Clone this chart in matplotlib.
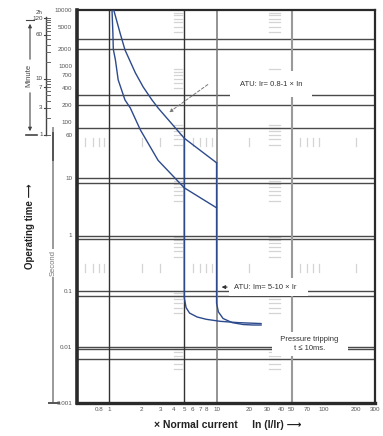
import matplotlib
matplotlib.use('Agg')
import matplotlib.pyplot as plt
from matplotlib.transforms import blended_transform_factory

plt.rcParams['font.family'] = ['Liberation Sans', 'DejaVu Sans']

# ---------------- data ----------------
lower_x = [1.06, 1.08, 1.09, 1.14, 1.21, 1.40, 1.57, 1.95, 2.85, 5.0, 10.0]
lower_t = [10000, 3900, 2000, 1300, 570, 250, 180, 73, 21, 6.8, 3.0]
upper_x = [1.10, 1.26, 1.40, 1.75, 2.07, 2.50, 2.85, 5.0, 10.0]
upper_t = [10000, 3900, 1950, 760, 425, 250, 180, 52, 19]
inst5_x = [5.0, 5.0, 5.2, 5.6, 6.6, 8.0, 10.8, 16.0, 26.0]
inst5_t = [52, 0.075, 0.05, 0.04, 0.034, 0.031, 0.0285, 0.027, 0.026]
inst10_x = [10.0, 10.0, 10.4, 11.5, 14.0, 17.7, 22.0, 26.0]
inst10_t = [19, 0.06, 0.042, 0.032, 0.027, 0.025, 0.0245, 0.0245]

xtick_vals = [0.8, 1, 2, 3, 4, 5, 6, 7, 8, 10, 20, 30, 40, 50, 70, 100, 200, 300]
xtick_labels = ['0.8', '1', '2', '3', '4', '5', '6', '7', '8', '10', '20', '30',
                '40', '50', '70', '100', '200', '300']
ytick_vals = [10000, 5000, 2000, 1000, 700, 400, 200, 100, 60, 10, 1, 0.1, 0.01, 0.001]
ytick_labels = ['10000', '5000', '2000', '1000', '700', '400', '200', '100', '60',
                '10', '1', '0.1', '0.01', '0.001']
minute_labels_v = [120, 60, 10, 7, 3, 1]
minute_minor_v = [1, 2, 3, 4, 5, 6, 7, 8, 9, 10, 20, 30, 40, 50, 60, 70, 80, 90, 100, 110, 120]

hgrid_dark = [3000, 2000, 300, 200, 80, 10, 8.2, 0.95, 0.84, 0.1, 0.08, 0.01, 0.0092, 0.006]
vgrid = [(1, '#333333', 1.0), (5, '#333333', 1.0), (10, '#777777', 1.1), (50, '#9a9a9a', 1.5)]
minor_k = [4, 5, 6, 7, 8, 9]
minor_decades = [0.001, 0.01, 0.1, 1, 10, 100, 1000]
vtick_x = [0.6, 0.7, 0.8, 0.9, 2, 3, 6, 7, 8, 9, 20, 60, 70, 80, 90, 200]

W, H = 383, 436
fig = plt.figure(figsize=(W / 100, H / 100), dpi=100)
ax = fig.add_axes([77 / W, 33 / H, 298 / W, 393 / H])
ax.set_xscale('log')
ax.set_yscale('log')
ax.set_xlim(0.5, 300)
ax.set_ylim(0.001, 10000)

ax.minorticks_off()
ax.set_xticks(xtick_vals)
ax.set_xticklabels(xtick_labels)
ax.set_yticks(ytick_vals)
ax.set_yticklabels(ytick_labels)
ax.tick_params(axis='both', length=0, labelsize=4.5, labelcolor='#555555')
ax.tick_params(axis='x', pad=3)
ax.tick_params(axis='y', pad=3.5)

for s, lw in [('left', 2.6), ('bottom', 2.4), ('top', 1.6), ('right', 1.6)]:
    ax.spines[s].set_linewidth(lw)
    ax.spines[s].set_color('#2a2a2a')

# grid lines
for v in hgrid_dark:
    ax.axhline(v, color='#4a4a4a', lw=1.0, zorder=1)
for v, c, lw in vgrid:
    ax.axvline(v, color=c, lw=lw, zorder=1)

# light minor marks
for d in minor_decades:
    for k in minor_k:
        v = k * d
        if v < 10000:
            ax.plot([4.0, 4.8], [v, v], color='#d4d4d4', lw=0.9, zorder=0.5)
            ax.plot([31, 39], [v, v], color='#d4d4d4', lw=0.9, zorder=0.5)
for x in vtick_x:
    ax.plot([x, x], [38, 52], color='#d4d4d4', lw=0.9, zorder=0.5)
    ax.plot([x, x], [0.215, 0.3], color='#d4d4d4', lw=0.9, zorder=0.5)

# curves
blue = '#2d4a8c'
ax.plot(lower_x, lower_t, color=blue, lw=1.0, zorder=3)
ax.plot(upper_x, upper_t, color=blue, lw=1.0, zorder=3)
ax.plot(inst5_x, inst5_t, color=blue, lw=1.0, zorder=3)
ax.plot(inst10_x, inst10_t, color=blue, lw=1.0, zorder=3)

# annotations
ax.annotate('', xy=(3.45, 141), xytext=(8.7, 503),
            arrowprops=dict(arrowstyle='-|>', color='#777777', lw=0.7,
                            linestyle=(0, (3, 2)), mutation_scale=5), zorder=4)
ax.text(16.5, 480, 'ATU: Ir= 0.8-1 × In', fontsize=5.5, color='#333333',
        ha='left', va='center', zorder=5,
        bbox=dict(boxstyle='square,pad=1.3', fc='white', ec='none'))

ax.annotate('', xy=(10.5, 0.116), xytext=(13.3, 0.116),
            arrowprops=dict(arrowstyle='-|>', color='#333333', lw=0.8,
                            mutation_scale=5), zorder=6)
ax.text(14.5, 0.116, 'ATU: Im= 5-10 × Ir   ', fontsize=5.5, color='#333333',
        ha='left', va='center', zorder=5,
        bbox=dict(boxstyle='square,pad=0.7', fc='white', ec='none'))

ax.text(74, 0.0112, '  Pressure tripping  \nt ≤ 10ms.', fontsize=5.5, color='#333333',
        ha='center', va='center', zorder=5, linespacing=1.3,
        bbox=dict(boxstyle='square,pad=0.6', fc='white', ec='none'))

# ---------- left side decorations ----------
tr = blended_transform_factory(fig.transFigure, ax.transData)

def fx(px):
    return px / W

def fy(py):
    return 1 - py / H

# Minute axis
ax.plot([fx(46), fx(46)], [60 * 1, 60 * 125], transform=tr, color='#444444', lw=1.0, clip_on=False)
for m in minute_minor_v:
    ax.plot([fx(46), fx(49.5)], [60 * m, 60 * m], transform=tr, color='#666666', lw=0.7, clip_on=False)
for m in minute_labels_v:
    ax.plot([fx(43.5), fx(46)], [60 * m, 60 * m], transform=tr, color='#444444', lw=0.8, clip_on=False)
    ax.text(fx(42.5), 60 * m, str(m), transform=tr, fontsize=4.5, color='#444444',
            ha='right', va='center', clip_on=False)
ax.text(fx(42.5), 60 * 120 * 1.25, '2h', transform=tr, fontsize=4.5, color='#444444',
        ha='right', va='center', clip_on=False)

fig.text(fx(29), fy(75), 'Minute', rotation=90, fontsize=5.5, color='#444444',
         ha='center', va='center')
fig.add_artist(matplotlib.patches.FancyArrowPatch((fx(30), fy(62)), (fx(30), fy(21)),
               transform=fig.transFigure, arrowstyle='-|>', mutation_scale=5,
               color='#444444', lw=0.8))
fig.add_artist(matplotlib.patches.FancyArrowPatch((fx(30), fy(90)), (fx(30), fy(134)),
               transform=fig.transFigure, arrowstyle='-|>', mutation_scale=5,
               color='#444444', lw=0.8))
fig.add_artist(matplotlib.lines.Line2D([fx(26), fx(37)], [fy(135), fy(135)],
               transform=fig.transFigure, color='#444444', lw=1.2))
fig.add_artist(matplotlib.lines.Line2D([fx(26), fx(34)], [fy(20), fy(20)],
               transform=fig.transFigure, color='#444444', lw=0.8))

# Second axis
fig.add_artist(matplotlib.lines.Line2D([fx(53), fx(53)], [fy(128), fy(403)],
               transform=fig.transFigure, color='#9a9a9a', lw=1.4))
fig.add_artist(matplotlib.lines.Line2D([fx(53), fx(53)], [fy(133), fy(160)],
               transform=fig.transFigure, color='#555555', lw=1.4))
fig.add_artist(matplotlib.lines.Line2D([fx(49), fx(59)], [fy(403), fy(403)],
               transform=fig.transFigure, color='#555555', lw=1.4))
fig.text(fx(53), fy(263), 'Second', rotation=90, fontsize=5.5, color='#777777',
         ha='center', va='center',
         bbox=dict(boxstyle='square,pad=0.15', fc='white', ec='none'))

fig.text(fx(30), fy(226), 'Operating time ⟶', rotation=90, fontsize=7,
         fontweight='bold', color='#222222', ha='center', va='center')

fig.text(fx(228), fy(425), '× Normal current     In (I/Ir) ⟶', fontsize=7.5,
         fontweight='bold', color='#222222', ha='center', va='center')

fig.savefig('out.png', dpi=100)
